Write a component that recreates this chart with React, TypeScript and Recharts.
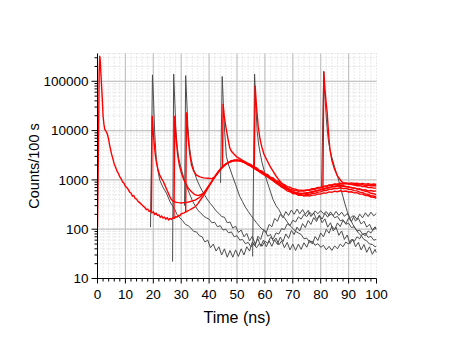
import React from "react"
import { LineChart, Line, XAxis, YAxis, CartesianGrid, ReferenceLine } from "recharts"

type Pt = [number, number]

const FONT = "'Liberation Sans', Arial, Helvetica, sans-serif"

// axis ticks
const X_MAJOR = [0, 10, 20, 30, 40, 50, 60, 70, 80, 90, 100]
const X_TICKS = [
  0, 2, 4, 6, 8, 10, 12, 14, 16, 18, 20, 22, 24, 26, 28, 30, 32, 34, 36, 38, 40, 42, 44, 46, 48, 50,
  52, 54, 56, 58, 60, 62, 64, 66, 68, 70, 72, 74, 76, 78, 80, 82, 84, 86, 88, 90, 92, 94, 96, 98, 100,
]
const X_GRID = [10, 20, 30, 40, 50, 60, 70, 80, 90]
const Y_MAJOR = [10, 100, 1000, 10000, 100000]
const Y_TICKS = [
  10, 20, 30, 40, 50, 60, 70, 80, 90,
  100, 200, 300, 400, 500, 600, 700, 800, 900,
  1000, 2000, 3000, 4000, 5000, 6000, 7000, 8000, 9000,
  10000, 20000, 30000, 40000, 50000, 60000, 70000, 80000, 90000,
  100000, 200000, 300000,
]
const Y_GRID = [100, 1000, 10000, 100000]
const Y_DOMAIN = [10, 366000]

// red traces (ns, counts)
const red0: Pt[] = [
  [0, 110], [0.3, 3000], [0.6, 150000], [0.8, 330000], [1.0, 260000], [1.2, 150000], [1.4, 95000],
  [1.7, 45000], [2.0, 20000], [2.3, 13500], [2.6, 10700], [3.0, 9800], [3.5, 8600], [3.9, 7000],
  [4.4, 4900], [5.0, 3400], [5.5, 2700], [6.0, 2100], [6.5, 1800], [7.0, 1500], [7.5, 1350],
  [8.0, 1150], [8.5, 1050], [9.0, 900], [9.5, 860], [10.0, 740], [10.5, 700], [11.0, 640],
  [11.5, 570], [12.0, 540], [12.5, 470], [13.0, 480], [13.5, 420], [14.0, 410], [14.5, 370],
  [15.0, 350], [15.5, 330], [16.0, 310], [16.5, 290], [17.0, 275], [17.5, 250], [18.0, 255],
  [18.5, 230], [19.0, 235], [19.5, 215], [20.0, 225], [20.5, 200], [21.0, 210], [21.5, 190],
  [22.0, 195], [22.5, 175], [23.0, 185], [23.5, 168], [24.0, 175], [24.5, 160], [25.0, 170],
  [25.5, 155], [26.0, 165], [26.5, 158], [27.0, 170], [27.5, 165], [28.0, 180], [28.5, 175],
  [29.0, 190], [29.5, 188], [30, 205], [31, 215], [32, 230], [33, 245], [34, 265], [35, 285],
  [36, 330], [37, 400], [38, 480], [39, 600], [40, 750], [41, 920], [42, 1150], [43, 1400],
  [44, 1650], [45, 1900], [46, 2100], [47, 2280], [48, 2420], [49, 2500], [50, 2520], [51, 2470],
  [52, 2380], [53, 2230], [54, 2080], [55, 1930], [56, 1780], [57, 1640], [58, 1510], [59, 1400],
  [60, 1290], [61, 1190], [62, 1090], [63, 990], [64, 900], [65, 820], [66, 760], [67, 700],
  [68, 650], [69, 610], [70, 580], [71, 560], [72, 530], [73, 535], [74, 525], [75, 550],
  [76, 550], [77, 580], [78, 585], [79, 615], [80, 625], [81, 655], [82, 670], [83, 705],
  [84, 715], [85, 745], [86, 745], [87, 760], [88, 745], [89, 740], [90, 710], [91, 705],
  [92, 675], [93, 665], [94, 635], [95, 620], [96, 585], [97, 570], [98, 535], [99, 525], [100, 500],
]
const red1: Pt[] = [
  [19.3, 225], [19.6, 20000], [19.9, 11000], [20.3, 5500], [20.7, 3300], [21.1, 2300], [21.7, 1600],
  [22.3, 1250], [23.0, 1050], [23.5, 950], [24, 820], [24.5, 700], [25, 600], [25.5, 520], [26, 450],
  [26.5, 400], [27, 375], [28, 355], [29, 345], [30, 340], [31, 345], [32, 350], [33, 360], [34, 375],
  [35, 390], [36, 420], [37, 460], [38, 530], [39, 640], [40, 780], [41, 940], [42, 1150], [43, 1380],
  [44, 1620], [45, 1880], [46, 2080], [47, 2250], [48, 2400], [49, 2470], [50, 2540], [51, 2450],
  [52, 2400], [53, 2200], [54, 2100], [55, 1900], [56, 1800], [57, 1600], [58, 1530], [59, 1380],
  [60, 1310], [61, 1170], [62, 1100], [63, 970], [64, 910], [65, 800], [66, 770], [67, 680],
  [68, 660], [69, 590], [70, 585], [71, 540], [72, 545], [73, 510], [74, 540], [75, 530], [76, 565],
  [77, 560], [78, 600], [79, 600], [80, 640], [81, 640], [82, 690], [83, 690], [84, 735], [85, 730],
  [86, 765], [87, 745], [88, 770], [89, 730], [90, 730], [91, 690], [92, 690], [93, 650], [94, 660],
  [95, 620], [96, 630], [97, 600], [98, 610], [99, 590], [100, 600],
]
const red2: Pt[] = [
  [27.4, 165], [27.7, 20000], [28.0, 10000], [28.3, 5700], [28.8, 3000], [29.4, 1900], [30.1, 1380],
  [30.8, 1050], [31.5, 870], [32.5, 690], [33.5, 590], [34.9, 500], [36, 480], [37, 500], [38, 540],
  [39, 630], [40, 760], [41, 930], [42, 1120], [43, 1360], [44, 1640], [45, 1850], [46, 2120],
  [47, 2260], [48, 2450], [49, 2480], [50, 2480], [51, 2500], [52, 2330], [53, 2270], [54, 2030],
  [55, 1980], [56, 1720], [57, 1690], [58, 1480], [59, 1450], [60, 1260], [61, 1230], [62, 1070],
  [63, 1040], [64, 890], [65, 870], [66, 760], [67, 740], [68, 680], [69, 650], [70, 620], [71, 615],
  [72, 590], [73, 600], [74, 595], [75, 615], [76, 615], [77, 640], [78, 645], [79, 680], [80, 685],
  [81, 720], [82, 730], [83, 770], [84, 775], [85, 810], [86, 805], [87, 835], [88, 825], [89, 845],
  [90, 820], [91, 830], [92, 800], [93, 815], [94, 790], [95, 800], [96, 770], [97, 785], [98, 760],
  [99, 770], [100, 750],
]
const red3: Pt[] = [
  [31.6, 220], [31.9, 23500], [32.2, 12000], [32.6, 6000], [33.1, 3300], [33.7, 2000], [34.5, 1500],
  [35.5, 1250], [36.7, 1150], [38, 1100], [39.6, 1080], [41, 1060], [42, 1150], [43, 1350],
  [44, 1600], [45, 1850], [46, 2050], [47, 2250], [48, 2350], [49, 2450], [50, 2480], [51, 2420],
  [52, 2320], [53, 2180], [54, 2020], [55, 1880], [56, 1730], [57, 1590], [58, 1460], [59, 1340],
  [60, 1240], [61, 1140], [62, 1040], [63, 950], [64, 860], [65, 790], [66, 710], [67, 665],
  [68, 600], [69, 575], [70, 530], [71, 525], [72, 490], [73, 495], [74, 485], [75, 510], [76, 505],
  [77, 535], [78, 535], [79, 565], [80, 570], [81, 605], [82, 610], [83, 645], [84, 645], [85, 675],
  [86, 670], [87, 690], [88, 670], [89, 675], [90, 645], [91, 640], [92, 605], [93, 600], [94, 565],
  [95, 555], [96, 515], [97, 510], [98, 475], [99, 470], [100, 450],
]
const red4: Pt[] = [
  [44.8, 1750], [45.0, 35000], [45.4, 20000], [46, 12000], [46.8, 6600], [47.4, 4500], [48, 3800],
  [49, 3300], [50, 2900], [51, 2700], [52, 2500], [53, 2330], [54, 2150], [55, 2040], [56, 1850],
  [57, 1760], [58, 1560], [59, 1500], [60, 1330], [61, 1280], [62, 1130], [63, 1090], [64, 960],
  [65, 930], [66, 830], [67, 800], [68, 730], [69, 710], [70, 660], [71, 650], [72, 620], [73, 620],
  [74, 610], [75, 625], [76, 630], [77, 660], [78, 670], [79, 700], [80, 710], [81, 745], [82, 750],
  [83, 790], [84, 790], [85, 830], [86, 820], [87, 860], [88, 840], [89, 870], [90, 850], [91, 870],
  [92, 845], [93, 860], [94, 830], [95, 850], [96, 820], [97, 835], [98, 810], [99, 825], [100, 810],
]
const red5: Pt[] = [
  [56.2, 1780], [56.5, 81000], [57, 30000], [57.6, 12300], [58.2, 7000], [58.8, 4900], [59.6, 3400],
  [60.6, 2600], [61.8, 1900], [62.9, 1500], [64, 1200], [65, 1000], [66, 870], [67, 760], [68, 680],
  [69, 610], [70, 560], [71, 545], [72, 500], [73, 495], [74, 470], [75, 480], [76, 470], [77, 490],
  [78, 490], [79, 520], [80, 515], [81, 545], [82, 540], [83, 570], [84, 560], [85, 590], [86, 575],
  [87, 600], [88, 580], [89, 595], [90, 570], [91, 575], [92, 545], [93, 550], [94, 515], [95, 515],
  [96, 480], [97, 480], [98, 450], [99, 445], [100, 420],
]
const red6: Pt[] = [
  [80.8, 640], [81.1, 155000], [81.5, 70000], [82, 35000], [82.3, 24000], [82.8, 9000], [83.3, 4200],
  [84, 2500], [85, 1630], [86, 1200], [87.4, 940], [88, 880], [89, 850], [90, 830], [91, 800],
  [92, 790], [93, 760], [94, 765], [95, 730], [96, 735], [97, 700], [98, 705], [99, 680], [100, 680],
]

// gray traces (ns, counts)
const gray1: Pt[] = [
  [19.0, 110], [19.7, 135000], [20.1, 40000], [20.5, 9000], [21.1, 2600], [21.6, 1600], [22.3, 1000],
  [23.5, 700], [24.7, 540], [26, 360], [27, 290], [27.7, 250], [28.5, 200], [29.5, 170], [30.5, 150],
  [31.5, 125], [32.5, 118], [33.5, 105], [34.5, 90], [35.5, 88], [36.5, 74], [37.5, 70], [38.5, 55],
  [39.5, 60], [40.5, 42], [41.5, 50], [42.5, 36], [43.5, 44], [44.5, 30], [45.5, 40], [46.5, 27],
  [47.5, 37], [48.5, 27], [49.5, 38], [50.5, 28], [51.5, 40], [52.5, 30], [53.5, 44], [54.5, 36],
  [55.5, 55], [56.5, 46], [57.5, 72], [58.5, 62], [59.5, 95], [60.5, 85], [61.5, 125], [62.5, 112],
  [63.5, 165], [64.5, 145], [65.5, 200], [66.5, 170], [67.5, 228], [68.5, 190], [69.5, 245],
  [70.5, 200], [71.5, 255], [72.5, 205], [73.5, 250], [74.5, 200], [75.5, 240], [76.5, 180],
  [77.5, 215], [78.5, 158], [79.5, 188], [80.5, 135], [81.5, 162], [82.5, 110], [83.5, 135],
  [84.5, 92], [85.5, 110], [86.5, 75], [87.5, 92], [88.5, 62], [89.5, 76], [90.5, 51], [91.5, 63],
  [92.5, 44], [93.5, 54], [94.5, 38], [95.5, 49], [96.5, 34], [97.5, 44], [98.5, 31], [99.5, 39],
  [100, 33],
]
const gray2: Pt[] = [
  [26.9, 22], [27.3, 140000], [27.7, 40000], [28.1, 10000], [28.6, 4500], [29.2, 2600], [30, 1700],
  [31, 1050], [32, 720], [33, 520], [34, 380], [35, 300], [36, 240], [37, 215], [38, 185], [39, 170],
  [40, 160], [41, 135], [42, 138], [43, 112], [44, 118], [45, 96], [46, 100], [47, 84], [48, 88],
  [49, 70], [50, 74], [51, 60], [52, 62], [53, 51], [54, 54], [55, 44], [56, 50], [57, 42], [58, 51],
  [59, 45], [60, 57], [61, 52], [62, 68], [63, 64], [64, 84], [65, 80], [66, 103], [67, 98],
  [68, 128], [69, 118], [70, 152], [71, 140], [72, 178], [73, 160], [74, 200], [75, 180], [76, 222],
  [77, 195], [78, 235], [79, 205], [80, 238], [81, 205], [82, 228], [83, 190], [84, 205], [85, 170],
  [86, 182], [87, 148], [88, 155], [89, 126], [90, 132], [91, 108], [92, 112], [93, 92], [94, 96],
  [95, 79], [96, 83], [97, 68], [98, 72], [99, 60], [100, 62],
]
const gray3: Pt[] = [
  [31.2, 300], [31.6, 130000], [32, 40000], [32.4, 12000], [32.9, 5000], [33.6, 2600], [34.5, 1600],
  [35.5, 1050], [36.5, 780], [37.5, 600], [38.5, 480], [39.5, 390], [40.5, 330], [41.5, 280],
  [42.5, 235], [43.5, 210], [44.5, 180], [45.5, 175], [46.5, 135], [47.5, 140], [48.5, 105],
  [49.5, 115], [50.5, 86], [51.5, 96], [52.5, 70], [53.5, 82], [54.5, 58], [55.5, 72], [56.5, 50],
  [57.5, 64], [58.5, 45], [59.5, 60], [60.5, 44], [61.5, 58], [62.5, 45], [63.5, 61], [64.5, 49],
  [65.5, 69], [66.5, 56], [67.5, 80], [68.5, 65], [69.5, 94], [70.5, 78], [71.5, 110], [72.5, 92],
  [73.5, 130], [74.5, 108], [75.5, 150], [76.5, 125], [77.5, 172], [78.5, 143], [79.5, 192],
  [80.5, 160], [81.5, 210], [82.5, 175], [83.5, 225], [84.5, 188], [85.5, 230], [86.5, 190],
  [87.5, 222], [88.5, 182], [89.5, 208], [90.5, 165], [91.5, 188], [92.5, 146], [93.5, 166],
  [94.5, 127], [95.5, 145], [96.5, 110], [97.5, 126], [98.5, 96], [99.5, 112], [100, 98],
]
const gray4: Pt[] = [
  [44.1, 870], [44.7, 125000], [45.1, 35000], [45.6, 9000], [46.2, 3000], [47, 2000], [48, 1380],
  [49.5, 800], [51, 460], [52, 360], [53, 280], [54, 230], [55, 190], [56, 160], [57, 135], [58, 115],
  [59, 100], [60, 95], [61, 72], [62, 78], [63, 57], [64, 66], [65, 48], [66, 58], [67, 42], [68, 54],
  [69, 38], [70, 50], [71, 37], [72, 50], [73, 39], [74, 53], [75, 43], [76, 60], [77, 50], [78, 71],
  [79, 59], [80, 84], [81, 70], [82, 99], [83, 83], [84, 116], [85, 98], [86, 134], [87, 113],
  [88, 152], [89, 128], [90, 170], [91, 142], [92, 188], [93, 158], [94, 202], [95, 170], [96, 215],
  [97, 180], [98, 222], [99, 186], [100, 210],
]
const gray5: Pt[] = [
  [55.6, 28], [56.3, 140000], [56.7, 40000], [57.2, 10000], [57.8, 5000], [58.3, 3500], [59, 2200],
  [59.8, 1500], [60.6, 1000], [61.5, 700], [62.9, 400], [64, 300], [65, 250], [66, 195], [67, 170],
  [68, 140], [69, 118], [70, 104], [71, 90], [72, 84], [73, 78], [74, 64], [75, 66], [76, 54],
  [77, 57], [78, 47], [79, 51], [80, 43], [81, 47], [82, 38], [83, 45], [84, 37], [85, 46], [86, 40],
  [87, 50], [88, 44], [89, 55], [90, 50], [91, 62], [92, 56], [93, 70], [94, 64], [95, 80], [96, 74],
  [97, 92], [98, 84], [99, 100], [100, 105],
]
const gray6: Pt[] = [
  [80.3, 740], [81.1, 160000], [81.5, 50000], [82.1, 15000], [82.7, 6600], [83.3, 4200], [83.9, 3000],
  [85, 1800], [86.2, 1100], [87.4, 600], [88.6, 340], [89.5, 230], [90.5, 165], [91.5, 125],
  [92.5, 102], [93.5, 84], [94.5, 74], [95.5, 62], [96.5, 58], [97.5, 50], [98.5, 49], [99.5, 44],
  [100, 46],
]

const GRAY_TRACES = [gray1, gray2, gray3, gray4, gray5, gray6]
const RED_TRACES = [red0, red1, red2, red3, red4, red5, red6]

const rows = (pts: Pt[]) => pts.map(([t, v]) => ({ t, v }))

function BottomTick({ x, y, payload }: any) {
  const major = X_MAJOR.includes(payload.value)
  return (
    <g>
      <line x1={x} x2={x} y1={y} y2={y + (major ? 5 : 3)} stroke="#000" />
      {major && (
        <text x={x} y={y + 20} textAnchor="middle" fontSize={13.5} fontFamily={FONT} fill="#000">
          {payload.value}
        </text>
      )}
    </g>
  )
}

function TopTick({ x, y, payload }: any) {
  const major = X_MAJOR.includes(payload.value)
  return <line x1={x} x2={x} y1={y} y2={y - (major ? 5 : 3)} stroke="#000" />
}

function LeftTick({ x, y, payload }: any) {
  const major = Y_MAJOR.includes(payload.value)
  return (
    <g>
      <line x1={x} x2={x - (major ? 6 : 3)} y1={y} y2={y} stroke="#000" />
      {major && (
        <text x={x - 9} y={y + 4.7} textAnchor="end" fontSize={13.5} fontFamily={FONT} fill="#000">
          {payload.value}
        </text>
      )}
    </g>
  )
}

function RightTick({ x, y, payload }: any) {
  const major = Y_MAJOR.includes(payload.value)
  return <line x1={x} x2={x + (major ? 6 : 3)} y1={y} y2={y} stroke="#000" />
}

export default function App() {
  return (
    <div style={{ position: "relative", width: 468, height: 351, background: "#fff" }}>
      <style>{"body{margin:0}"}</style>
      <LineChart width={468} height={351} margin={{ top: 53.5, right: 91.5, bottom: 22.5, left: 37.5 }}>
        <CartesianGrid stroke="#d4d4d4" strokeDasharray="1 2" />
        {X_GRID.map((v) => (
          <ReferenceLine key={"gx" + v} x={v} stroke="#c4c4c4" strokeWidth={1.2} />
        ))}
        {Y_GRID.map((v) => (
          <ReferenceLine key={"gy" + v} y={v} stroke="#c4c4c4" strokeWidth={1.2} />
        ))}
        <XAxis
          dataKey="t"
          type="number"
          domain={[0, 100]}
          allowDataOverflow
          ticks={X_TICKS}
          interval={0}
          height={50}
          tickSize={0}
          tickMargin={0}
          tickLine={false}
          tick={<BottomTick />}
          axisLine={{ stroke: "#000" }}
        />
        <XAxis
          xAxisId="top"
          orientation="top"
          dataKey="t"
          type="number"
          domain={[0, 100]}
          allowDataOverflow
          ticks={X_TICKS}
          interval={0}
          height={0}
          tickSize={0}
          tickMargin={0}
          tickLine={false}
          tick={<TopTick />}
          axisLine={{ stroke: "#000" }}
        />
        <YAxis
          type="number"
          scale="log"
          domain={Y_DOMAIN}
          allowDataOverflow
          ticks={Y_TICKS}
          interval={0}
          width={60}
          tickSize={0}
          tickMargin={0}
          tickLine={false}
          tick={<LeftTick />}
          axisLine={{ stroke: "#000" }}
        />
        <YAxis
          yAxisId="right"
          orientation="right"
          type="number"
          scale="log"
          domain={Y_DOMAIN}
          allowDataOverflow
          ticks={Y_TICKS}
          interval={0}
          width={0}
          tickSize={0}
          tickMargin={0}
          tickLine={false}
          tick={<RightTick />}
          axisLine={{ stroke: "#000" }}
        />
        {GRAY_TRACES.map((pts, i) => (
          <Line
            key={"gray" + i}
            data={rows(pts)}
            dataKey="v"
            type="linear"
            stroke="#4d4d4d"
            strokeWidth={1}
            dot={false}
            isAnimationActive={false}
          />
        ))}
        {RED_TRACES.map((pts, i) => (
          <Line
            key={"red" + i}
            data={rows(pts)}
            dataKey="v"
            type="linear"
            stroke="#ff0000"
            strokeWidth={1.4}
            dot={false}
            isAnimationActive={false}
          />
        ))}
      </LineChart>
      <svg
        width={468}
        height={351}
        style={{ position: "absolute", left: 0, top: 0, pointerEvents: "none" }}
      >
        <text x={237} y={322.7} textAnchor="middle" fontSize={16} fontFamily={FONT} fill="#000">
          Time (ns)
        </text>
        <text
          transform="translate(38.5,166) rotate(-90)"
          textAnchor="middle"
          fontSize={14.5}
          fontFamily={FONT}
          fill="#000"
        >
          Counts/100 s
        </text>
      </svg>
    </div>
  )
}
